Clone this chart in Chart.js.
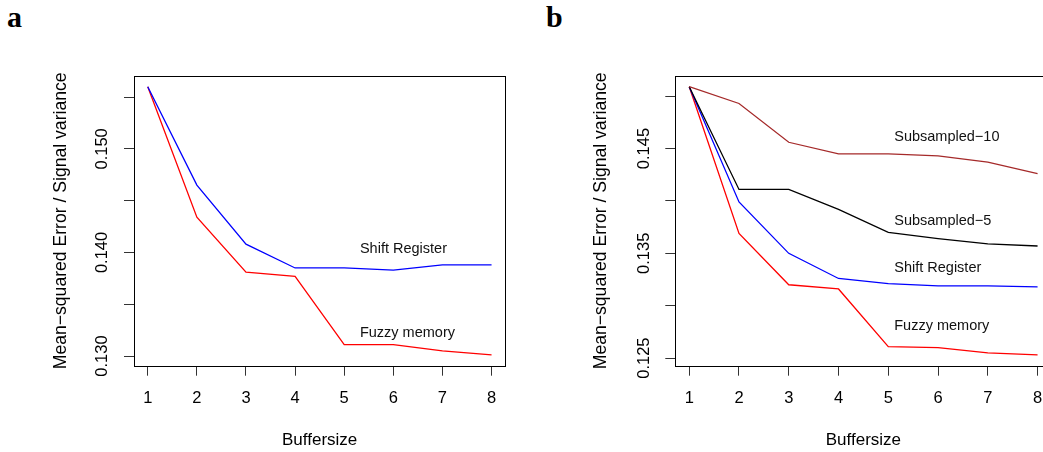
<!DOCTYPE html>
<html>
<head>
<meta charset="utf-8">
<script src="https://cdn.jsdelivr.net/npm/chart.js@4/dist/chart.umd.min.js"></script>
<style>
  html, body { margin: 0; padding: 0; background: #fff; overflow: hidden; width: 1043px; height: 452px; }
  canvas { position: absolute; top: 0; }
  #panelA { left: 0; }
  #panelB { left: 530px; }
  .tag { position: absolute; top: 2px; font: bold 30px/30px "Liberation Serif", "Times New Roman", serif; color: #000; }
</style>
</head>
<body>
<div class="tag" style="left:7px">a</div>
<div class="tag" style="left:546px">b</div>
<canvas id="panelA" width="530" height="452"></canvas>
<canvas id="panelB" width="540" height="452"></canvas>
<script>
const bufferSizes = [1, 2, 3, 4, 5, 6, 7, 8];

// panel a
const shiftA = [0.1560, 0.1465, 0.1408, 0.1385, 0.1385, 0.1383, 0.1388, 0.1388];
const fuzzyA = [0.1560, 0.1434, 0.1381, 0.1377, 0.1311, 0.1311, 0.1305, 0.1301];
const yTicksA = [0.130, 0.135, 0.140, 0.145, 0.150, 0.155];
const yLabelsA = ['0.130', '', '0.140', '', '0.150', ''];

// panel b
const sub10B = [0.1509, 0.1493, 0.1456, 0.1445, 0.1445, 0.1443, 0.1437, 0.1426];
const sub5B = [0.1509, 0.1411, 0.1411, 0.1392, 0.1370, 0.1364, 0.1359, 0.1357];
const shiftB = [0.1509, 0.1399, 0.1350, 0.1326, 0.1321, 0.1319, 0.1319, 0.1318];
const fuzzyB = [0.1509, 0.1369, 0.1320, 0.1316, 0.1261, 0.1260, 0.1255, 0.1253];
const yTicksB = [0.125, 0.130, 0.135, 0.140, 0.145, 0.150];
const yLabelsB = ['0.125', '', '0.135', '', '0.145', ''];

// text labels inside the plots (data coordinates)
const notesA = [
    { text: 'Shift Register', x: 5.32, y: 0.14036 },
    { text: 'Fuzzy memory', x: 5.32, y: 0.13225 },
];
const notesB = [
    { text: 'Subsampled\u221210', x: 5.12, y: 0.14612 },
    { text: 'Subsampled\u22125', x: 5.12, y: 0.13808 },
    { text: 'Shift Register', x: 5.12, y: 0.13357 },
    { text: 'Fuzzy memory', x: 5.12, y: 0.12808 },
];

const FONT = '"Liberation Sans", Arial, Helvetica, sans-serif';
Chart.defaults.font.family = FONT;
Chart.defaults.color = '#000';

// R style axis range: data range plus 4% each side
function rRange(arrs) {
    const all = arrs.flat();
    const lo = Math.min(...all), hi = Math.max(...all);
    const pad = (hi - lo) * 0.04;
    return [lo - pad, hi + pad];
}

const boxAndNotes = {
    id: 'boxAndNotes',
    afterDatasetsDraw(chart, args, opts) {
        const { ctx, chartArea: a, scales: { x, y } } = chart;
        ctx.save();
        ctx.strokeStyle = '#000';
        ctx.lineWidth = 1;
        ctx.strokeRect(Math.round(a.left) + 0.5, Math.round(a.top) + 0.5,
            Math.round(a.right - a.left), Math.round(a.bottom - a.top));
        ctx.font = '14.5px ' + FONT;
        ctx.fillStyle = '#111';
        ctx.textAlign = 'left';
        ctx.textBaseline = 'middle';
        (opts.notes || []).forEach(n => {
            ctx.fillText(n.text, x.getPixelForValue(n.x), y.getPixelForValue(n.y));
        });
        ctx.restore();
    }
};

function makeChart(id, series, yTicks, yLabels, notes, yTitlePad, padRight) {
    const [yMin, yMax] = rRange(series.map(s => s.data));
    new Chart(document.getElementById(id), {
        type: 'line',
        data: {
            datasets: series.map(s => ({
                data: s.data.map((v, i) => ({ x: bufferSizes[i], y: v })),
                borderColor: s.color,
                borderWidth: 1.3,
                pointRadius: 0,
                tension: 0,
                fill: false,
            }))
        },
        options: {
            responsive: false,
            animation: false,
            layout: { padding: { left: 0, top: 76, right: padRight, bottom: 0 } },
            plugins: {
                legend: { display: false },
                tooltip: { enabled: false },
                boxAndNotes: { notes: notes },
            },
            scales: {
                x: {
                    type: 'linear',
                    min: 0.72,
                    max: 8.28,
                    afterBuildTicks: s => { s.ticks = bufferSizes.map(v => ({ value: v })); },
                    afterFit: s => { s.height = 86.3; },
                    ticks: {
                        font: { size: 16.5 },
                        padding: 13,
                        maxRotation: 0,
                        autoSkip: false,
                        callback: v => String(v),
                    },
                    grid: { drawOnChartArea: false, drawTicks: true, tickLength: 10, color: '#333' },
                    border: { display: false },
                    title: {
                        display: true,
                        text: 'Buffersize',
                        font: { size: 17 },
                        padding: { top: 0, bottom: 1.5 },
                    },
                },
                y: {
                    type: 'linear',
                    min: yMin,
                    max: yMax,
                    afterBuildTicks: s => { s.ticks = yTicks.map(v => ({ value: v })); },
                    afterFit: s => { s.width = yTitlePad.axisWidth; },
                    ticks: {
                        font: { size: 16.5 },
                        minRotation: 90,
                        maxRotation: 90,
                        crossAlign: 'center',
                        padding: 0.5,
                        autoSkip: false,
                        callback: (v, i) => yLabels[i],
                    },
                    grid: { drawOnChartArea: false, drawTicks: true, tickLength: 10, color: '#333' },
                    border: { display: false },
                    title: {
                        display: true,
                        text: 'Mean\u2212squared Error / Signal variance',
                        font: { size: 17.6 },
                        padding: { top: yTitlePad.title, bottom: 0 },
                    },
                },
            },
        },
        plugins: [boxAndNotes],
    });
}

makeChart('panelA',
    [{ data: shiftA, color: '#0000ff' }, { data: fuzzyA, color: '#ff0000' }],
    yTicksA, yLabelsA, notesA, { axisWidth: 134, title: 50.4 }, 24.7);

makeChart('panelB',
    [{ data: sub10B, color: '#a52a2a' }, { data: sub5B, color: '#000000' },
     { data: shiftB, color: '#0000ff' }, { data: fuzzyB, color: '#ff0000' }],
    yTicksB, yLabelsB, notesB, { axisWidth: 145.3, title: 60.4 }, 18.5);
</script>
</body>
</html>
